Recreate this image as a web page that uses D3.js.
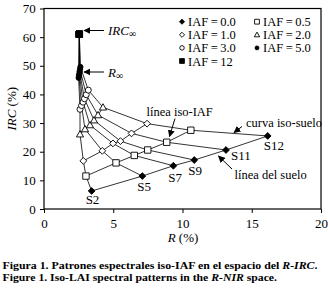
<!DOCTYPE html>
<html><head><meta charset="utf-8">
<script src="https://cdn.jsdelivr.net/npm/d3@7/dist/d3.min.js"></script>
<style>
body{margin:0;background:#fff;}
svg text{font-family:"Liberation Serif","Times New Roman",serif;fill:#000;}
</style></head>
<body><svg id="c" width="328" height="288"></svg>
<script>
// ---- data ----
const soils = ["S2","S5","S7","S9","S11","S12"];
const iafLevels = ["0.0","0.5","1.0","2.0","3.0","5.0","12"];
// R (%) per IAF level, one value per soil (S2..S12)
const rIAF00 = [3.44, 7.10, 9.34, 10.85, 13.14, 16.15];
const rIAF05 = [3.03, 5.20, 6.52, 7.49, 8.86, 10.60];
const rIAF10 = [2.84, 4.21, 4.98, 5.52, 6.32, 7.44];
const rIAF20 = [2.60, 2.96, 3.32, 3.61, 3.90, 4.26];
const rIAF30 = [2.60, 2.71, 2.82, 2.92, 3.05, 3.20];
const rIAF50 = [2.50, 2.52, 2.55, 2.57, 2.60, 2.63];
const rIAF12 = [2.55, 2.55, 2.55, 2.55, 2.55, 2.55];
// IRC (%) per IAF level
const ircIAF00 = [6.3, 11.5, 15.1, 17.1, 20.6, 25.5];
const ircIAF05 = [11.5, 16.1, 18.7, 20.6, 23.3, 27.5];
const ircIAF10 = [16.8, 20.3, 22.9, 23.7, 26.4, 29.8];
const ircIAF20 = [26.1, 27.9, 29.3, 31.0, 32.8, 35.5];
const ircIAF30 = [34.8, 36.1, 37.3, 38.5, 39.9, 41.5];
const ircIAF50 = [45.8, 46.5, 47.2, 48.0, 48.8, 49.6];
const ircIAF12 = [61.0, 61.0, 61.0, 61.0, 61.0, 61.0];
const xTicks = [0, 5, 10, 15, 20];
const yTicks = [0, 10, 20, 30, 40, 50, 60, 70];

const rSeries = [rIAF00, rIAF05, rIAF10, rIAF20, rIAF30, rIAF50, rIAF12];
const ircSeries = [ircIAF00, ircIAF05, ircIAF10, ircIAF20, ircIAF30, ircIAF50, ircIAF12];

// ---- layout ----
const svg = d3.select("#c");
const x = d3.scaleLinear().domain([0, 20]).range([44, 321]);
const y = d3.scaleLinear().domain([0, 70]).range([209, 8.5]);

// marker shapes
const markers = {
  "0.0": {shape: "diamond", fill: "#000", s: 3.4},
  "0.5": {shape: "square", fill: "#fff", s: 3.2},
  "1.0": {shape: "diamond", fill: "#fff", s: 3.4},
  "2.0": {shape: "triangle", fill: "#fff", s: 3.6},
  "3.0": {shape: "circle", fill: "#fff", s: 3.0},
  "5.0": {shape: "circle", fill: "#000", s: 2.6},
  "12":  {shape: "square", fill: "#000", s: 3.2}
};
function shapePath(shape, s) {
  if (shape === "diamond") return `M0,${-s}L${s},0L0,${s}L${-s},0Z`;
  if (shape === "square") return `M${-s},${-s}H${s}V${s}H${-s}Z`;
  if (shape === "triangle") return `M0,${-s}L${s},${s*0.75}L${-s},${s*0.75}Z`;
  // circle
  return d3.arc()({innerRadius: 0, outerRadius: s, startAngle: 0, endAngle: 2 * Math.PI});
}

// frame
svg.append("rect").attr("x", x(0)).attr("y", y(70))
  .attr("width", x(20) - x(0)).attr("height", y(0) - y(70))
  .attr("fill", "none").attr("stroke", "#000").attr("stroke-width", 1.2);

// axes
const xAxis = svg.append("g").attr("transform", `translate(0,${y(0)})`)
  .call(d3.axisBottom(x).tickValues(xTicks).tickSize(4).tickSizeOuter(0));
const yAxis = svg.append("g").attr("transform", `translate(${x(0)},0)`)
  .call(d3.axisLeft(y).tickValues(yTicks).tickSize(4).tickSizeOuter(0));
[xAxis, yAxis].forEach(g => {
  g.select(".domain").remove();
  g.selectAll("line").attr("stroke", "#000").attr("stroke-width", 1);
  g.selectAll("text").attr("font-family", "Liberation Serif").attr("font-size", 13).attr("fill", "#000");
});
xAxis.selectAll("text").attr("dy", "0.9em");
yAxis.selectAll("text").attr("dx", "-0.1em");

// axis titles
svg.append("text").attr("x", 183).attr("y", 242).attr("text-anchor", "middle").attr("font-size", 13)
  .html('<tspan font-style="italic">R</tspan> (%)');
svg.append("text").attr("transform", `translate(16,${y(35)}) rotate(-90)`).attr("text-anchor", "middle").attr("font-size", 13)
  .html('<tspan font-style="italic">IRC</tspan> (%)');

const line = d3.line().x(d => x(d[0])).y(d => y(d[1]));
const lines = svg.append("g").attr("fill", "none").attr("stroke", "#000").attr("stroke-width", 0.8);

// iso-soil curves (each soil through all IAF levels)
soils.forEach((s, j) => {
  const pts = rSeries.map((rs, i) => [rs[j], ircSeries[i][j]]);
  lines.append("path").attr("d", line.curve(d3.curveLinear)(pts));
});
// iso-IAF lines (each IAF across soils)
rSeries.forEach((rs, i) => {
  if (i === rSeries.length - 1) return;
  const pts = rs.map((r, j) => [r, ircSeries[i][j]]);
  lines.append("path").attr("d", line(pts));
});

// markers
const mk = svg.append("g");
rSeries.forEach((rs, i) => {
  const m = markers[iafLevels[i]];
  rs.forEach((r, j) => {
    mk.append("path").attr("d", shapePath(m.shape, m.s))
      .attr("transform", `translate(${x(r)},${y(ircSeries[i][j])})`)
      .attr("fill", m.fill).attr("stroke", "#000").attr("stroke-width", 0.9);
  });
});

// soil labels
const soilLabelPos = [[-6, 13], [-5, 15], [-5, 16], [-6, 15], [5, 10], [-4, 14]];
soils.forEach((s, j) => {
  svg.append("text").attr("x", x(rIAF00[j]) + soilLabelPos[j][0]).attr("y", y(ircIAF00[j]) + soilLabelPos[j][1])
    .attr("font-size", 13).text(s);
});

// legend
const legendCol1 = ["0.0", "1.0", "3.0", "12"];
const legendCol2 = ["0.5", "2.0", "5.0"];
function legendItem(lbl, lx, ly) {
  const m = markers[lbl];
  svg.append("path").attr("d", shapePath(m.shape, m.s * 0.75))
    .attr("transform", `translate(${lx},${ly})`).attr("fill", m.fill).attr("stroke", "#000").attr("stroke-width", 0.9);
  svg.append("text").attr("x", lx + 6).attr("y", ly + 4.5).attr("font-size", 12.5).text("IAF\u2009=\u2009" + lbl);
}
legendCol1.forEach((l, k) => legendItem(l, 182, 21.7 + k * 13.1));
legendCol2.forEach((l, k) => legendItem(l, 257, 21.7 + k * 13.1));

// annotations with arrows
svg.append("defs").append("marker").attr("id", "ah").attr("viewBox", "0 0 10 10")
  .attr("refX", 9).attr("refY", 5).attr("markerWidth", 7).attr("markerHeight", 7)
  .attr("orient", "auto").attr("markerUnits", "userSpaceOnUse")
  .append("path").attr("d", "M0,0L10,5L0,10Z").attr("fill", "#000");
function arrow(x1, y1, x2, y2) {
  svg.append("line").attr("x1", x1).attr("y1", y1).attr("x2", x2).attr("y2", y2)
    .attr("stroke", "#000").attr("stroke-width", 1).attr("marker-end", "url(#ah)");
}
arrow(104, 30.5, 84, 30.5);
svg.append("text").attr("x", 108).attr("y", 35).attr("font-size", 13)
  .html('<tspan font-style="italic">IRC</tspan><tspan font-size="10" dy="2">\u221E</tspan>');
arrow(104, 72, 84, 72);
svg.append("text").attr("x", 108).attr("y", 77).attr("font-size", 13)
  .html('<tspan font-style="italic">R</tspan><tspan font-size="10" dy="2">\u221E</tspan>');

svg.append("text").attr("x", 146.5).attr("y", 116).attr("font-size", 12.5).text("línea iso-IAF");
arrow(175, 118.5, 169.5, 136.5);
svg.append("text").attr("x", 246).attr("y", 127).attr("font-size", 12.5).text("curva iso-suelo");
arrow(242, 126.5, 234, 132.5);
svg.append("text").attr("x", 234.5).attr("y", 179).attr("font-size", 12.5).text("línea del suelo");
arrow(232, 169, 218.5, 156);

// caption
svg.append("text").attr("x", 2.5).attr("y", 268.5).attr("font-size", 10.2).attr("font-weight", "bold")
  .attr("textLength", 315).attr("lengthAdjust", "spacingAndGlyphs")
  .html('Figura 1. Patrones espectrales iso-IAF en el espacio del <tspan font-style="italic">R-IRC</tspan>.');
svg.append("text").attr("x", 2.5).attr("y", 280.5).attr("font-size", 10.2).attr("font-weight", "bold")
  .attr("textLength", 274.5).attr("lengthAdjust", "spacingAndGlyphs")
  .html('Figure 1. Iso-LAI spectral patterns in the <tspan font-style="italic">R-NIR</tspan> space.');
</script></body></html>
